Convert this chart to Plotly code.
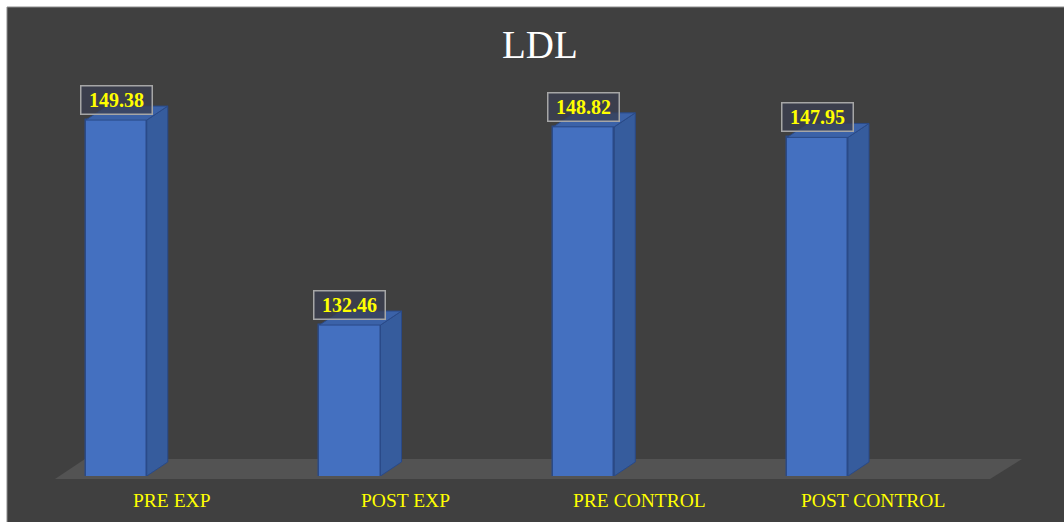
import plotly.graph_objects as go

# Chart data
categories = ["PRE EXP", "POST EXP", "PRE CONTROL", "POST CONTROL"]
ldl_values = [149.38, 132.46, 148.82, 147.95]
chart_title = "LDL"

# Figure geometry (pixels)
W, H = 1064, 522
Y_MIN, Y_MAX = 120, 155
X_MIN, X_MAX = -0.5, 3.5
plot_left, plot_right = 55, 990          # x-axis domain in px
plot_top, plot_bottom = 52, 476          # y-axis domain in px

# 3D bar styling
bar_offset = -0.238      # front face shift within each category
bar_width = 0.261
depth_x = 0.09           # depth in x-axis units
depth_y = 1.155          # depth in y-axis units

FRONT = "#4470C0"
SIDE = "#365C9D"
TOP = "#3B62A8"
EDGE = "#2A4A88"
BG = "#404040"
FLOOR = "#535353"
SERIF = "Liberation Serif, Times New Roman, serif"

fig = go.Figure()

positions = list(range(len(categories)))
centers = [p + bar_offset for p in positions]

# Side faces
for c, v in zip(centers, ldl_values):
    xr = c + bar_width / 2
    fig.add_trace(go.Scatter(
        x=[xr, xr + depth_x, xr + depth_x, xr, xr],
        y=[Y_MIN, Y_MIN + depth_y, v + depth_y, v, Y_MIN],
        mode="lines", fill="toself", fillcolor=SIDE,
        line=dict(color=EDGE, width=1), hoverinfo="skip",
        showlegend=False, cliponaxis=False,
    ))

# Top faces
for c, v in zip(centers, ldl_values):
    xl = c - bar_width / 2
    xr = c + bar_width / 2
    fig.add_trace(go.Scatter(
        x=[xl, xr, xr + depth_x, xl + depth_x, xl],
        y=[v, v, v + depth_y, v + depth_y, v],
        mode="lines", fill="toself", fillcolor=TOP,
        line=dict(color=EDGE, width=1), hoverinfo="skip",
        showlegend=False, cliponaxis=False,
    ))

# Front faces
fig.add_trace(go.Bar(
    x=centers, y=ldl_values, width=bar_width,
    marker=dict(color=FRONT, line=dict(color=EDGE, width=1.5)),
    showlegend=False, hoverinfo="skip",
))

# Value labels
for c, v in zip(centers, ldl_values):
    fig.add_annotation(
        x=c, y=v, xref="x", yref="y",
        text=f"&nbsp;<b>{v:.2f}</b>&nbsp;", showarrow=False,
        yanchor="middle", yshift=20,
        font=dict(family=SERIF, size=20, color="#FFFF00"),
        bgcolor="rgba(58,62,80,0.75)", bordercolor="#A6A6A6",
        borderwidth=1.5, borderpad=2.5,
    )

# Category labels
for p, name in zip(positions, categories):
    fig.add_annotation(
        x=p, y=(H - 500) / H, xref="x", yref="paper",
        text=name, showarrow=False, yanchor="middle",
        font=dict(family=SERIF, size=19.5, color="#FFFF00"),
    )

# Title
fig.add_annotation(
    x=540 / W, y=(H - 45) / H, xref="paper", yref="paper",
    text=chart_title, showarrow=False, yanchor="middle",
    font=dict(family=SERIF, size=39, color="#FFFFFF"),
)

# Chart background and floor
fig.add_shape(type="rect", xref="paper", yref="paper",
              x0=7 / W, x1=1.01, y0=-0.01, y1=(H - 7) / H,
              fillcolor=BG, line=dict(color="#8C8C8C", width=1), layer="below")
fig.add_shape(type="path", xref="paper", yref="paper",
              path=(f"M {55 / W} {(H - 479) / H} L {990 / W} {(H - 479) / H} "
                    f"L {1022 / W} {(H - 459) / H} L {85 / W} {(H - 459) / H} Z"),
              fillcolor=FLOOR, line=dict(width=0), layer="below")

fig.update_layout(
    width=W, height=H,
    margin=dict(l=0, r=0, t=0, b=0),
    paper_bgcolor="#FFFFFF",
    plot_bgcolor="rgba(0,0,0,0)",
    bargap=0,
    xaxis=dict(range=[X_MIN, X_MAX], domain=[plot_left / W, plot_right / W],
               showgrid=False, zeroline=False, showline=False,
               showticklabels=False, ticks="", fixedrange=True),
    yaxis=dict(range=[Y_MIN, Y_MAX],
               domain=[(H - plot_bottom) / H, (H - plot_top) / H],
               showgrid=False, zeroline=False, showline=False,
               showticklabels=False, ticks="", fixedrange=True),
)

fig.write_html("out.html")
